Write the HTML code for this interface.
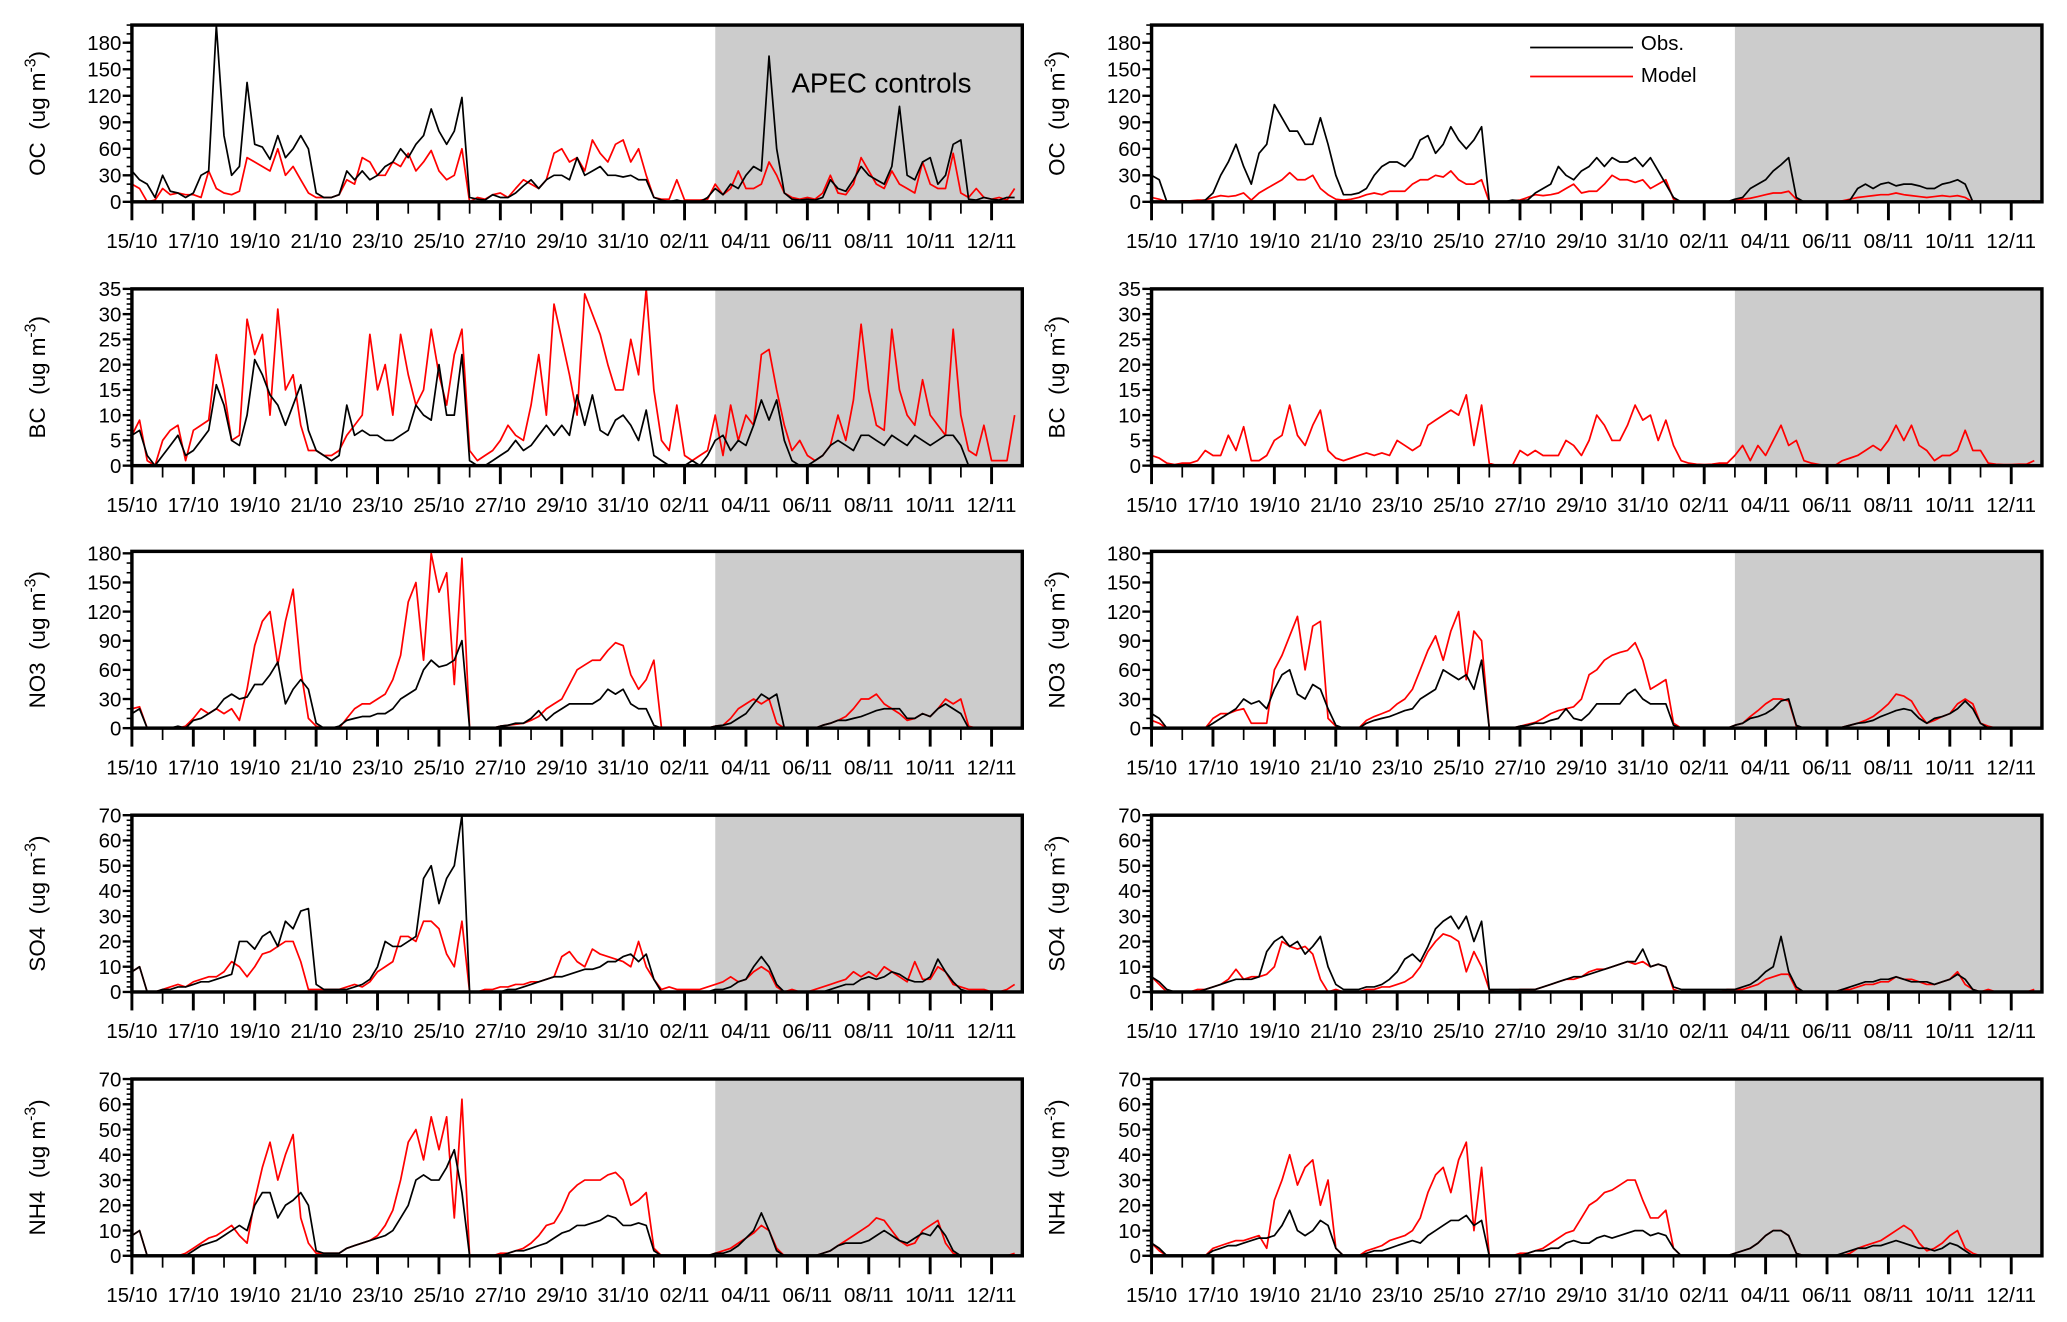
<!DOCTYPE html>
<html><head><meta charset="utf-8"><style>
html,body{margin:0;padding:0;background:#fff;}
svg{display:block;font-family:"Liberation Sans",Arial,sans-serif;}
</style></head><body>
<svg id="chart" width="2067" height="1322" viewBox="0 0 1567 1002.2" preserveAspectRatio="none" xmlns="http://www.w3.org/2000/svg"></svg>
<script>
// 6-hourly values, 4 per day, starting 15/10 00:00
const dateLabels = ["15/10","17/10","19/10","21/10","23/10","25/10","27/10","29/10","31/10","02/11","04/11","06/11","08/11","10/11","12/11"];
const species = ["OC","BC","NO3","SO4","NH4"];
const yMax = [200,35,182,70,70];
const yMajor = [[0,30,60,90,120,150,180],[0,5,10,15,20,25,30,35],[0,30,60,90,120,150,180],[0,10,20,30,40,50,60,70],[0,10,20,30,40,50,60,70]];
const yMinorStep = [10,1,10,2,2];
const apecStartDay = 19;

const ocObsL = [35,25,20,5, 30,12,10,5, 10,30,35,200, 75,30,40,135, 65,62,48,75, 50,60,75,60, 10,5,5,8, 35,25,35,25, 30,40,45,60, 50,65,75,105, 80,65,80,118, 5,3,2,8, 5,5,10,18, 25,15,25,30, 30,25,50,30, 35,40,30,30, 28,30,25,25, 5,2,0,2, 0,0,0,5, 15,8,20,15, 30,40,35,165, 60,10,3,2, 3,2,5,25, 15,12,25,40, 30,25,20,40, 108,30,25,45, 50,20,30,65, 70,3,2,5, 3,2,5,5];
const ocModL = [20,15,0,2, 15,8,10,8, 8,5,35,15, 10,8,12,50, 45,40,35,60, 30,40,25,10, 5,5,5,8, 25,20,50,45, 30,30,45,40, 55,35,45,58, 35,25,30,60, 0,5,3,8, 10,5,15,25, 20,15,25,55, 60,45,50,35, 70,55,45,65, 70,45,60,30, 5,3,3,25, 2,2,2,3, 20,8,15,35, 15,15,20,45, 30,10,5,3, 5,3,10,30, 10,8,20,50, 35,20,15,35, 20,15,10,45, 20,15,15,55, 10,5,15,5, 3,5,2,15];
const bcObsL = [6,7,2,0, 2,4,6,2, 3,5,7,16, 12,5,4,10, 21,18,14,12, 8,12,16,7, 3,2,1,2, 12,6,7,6, 6,5,5,6, 7,12,10,9, 20,10,10,22, 1,0,0,1, 2,3,5,3, 4,6,8,6, 8,6,14,8, 14,7,6,9, 10,8,5,11, 2,1,0,0, 0,1,0,2, 5,6,3,5, 4,8,13,9, 13,5,1,0, 0,1,2,4, 5,4,3,6, 6,5,4,6, 5,4,6,5, 4,5,6,6, 4,0,0,0, 0,0,0,0];
const bcModL = [6,9,1,0, 5,7,8,1, 7,8,9,22, 15,5,6,29, 22,26,10,31, 15,18,8,3, 3,2,2,3, 6,8,10,26, 15,20,10,26, 18,12,15,27, 18,12,22,27, 3,1,2,3, 5,8,6,5, 12,22,10,32, 25,18,10,34, 30,26,20,15, 15,25,18,35, 15,5,3,12, 2,1,2,3, 10,2,12,5, 10,8,22,23, 15,8,3,5, 2,1,2,4, 10,5,13,28, 15,8,7,27, 15,10,8,17, 10,8,6,27, 10,3,2,8, 1,1,1,10];
const no3ObsL = [15,20,0,0, 0,0,2,0, 8,10,15,20, 30,35,30,32, 45,45,55,68, 25,40,50,40, 5,0,0,2, 8,10,12,12, 15,15,20,30, 35,40,60,70, 63,65,70,90, 0,0,0,0, 2,3,5,5, 10,18,8,15, 20,25,25,25, 25,30,40,35, 40,25,20,20, 3,0,0,0, 0,0,0,0, 2,3,5,10, 15,25,35,30, 35,0,0,0, 0,0,3,5, 8,8,10,12, 15,18,20,20, 20,10,10,15, 12,20,25,20, 15,0,0,0, 0,0,0,0];
const no3ModL = [20,22,0,0, 0,0,0,2, 10,20,15,20, 15,20,8,40, 85,110,120,65, 110,143,60,10, 2,0,0,0, 10,20,25,25, 30,35,50,75, 130,150,70,180, 140,160,45,175, 0,0,0,0, 2,3,4,5, 8,12,20,25, 30,45,60,65, 70,70,80,88, 85,55,40,50, 70,0,0,0, 0,0,0,0, 2,3,10,20, 25,30,25,30, 5,0,0,0, 0,0,3,5, 8,12,20,30, 30,35,25,20, 15,8,10,15, 12,20,30,25, 30,2,0,0, 0,0,0,0];
const so4ObsL = [8,10,0,0, 1,1,2,2, 3,4,4,5, 6,7,20,20, 17,22,24,18, 28,25,32,33, 3,1,1,1, 1,2,3,5, 10,20,18,18, 20,22,45,50, 35,45,50,70, 0,0,0,0, 0,1,1,2, 3,4,5,6, 6,7,8,9, 9,10,12,12, 14,15,12,15, 5,0,0,0, 0,0,0,0, 1,1,2,4, 5,10,14,10, 3,0,0,0, 0,0,0,1, 2,3,3,5, 6,5,6,8, 7,5,4,4, 6,13,8,4, 1,0,0,0, 0,0,0,0];
const so4ModL = [8,10,0,0, 1,2,3,2, 4,5,6,6, 8,12,10,6, 10,15,16,18, 20,20,12,1, 1,1,1,1, 2,3,2,4, 8,10,12,22, 22,20,28,28, 25,15,10,28, 0,0,1,1, 2,2,3,3, 4,4,5,6, 14,16,12,10, 17,15,14,13, 12,10,20,10, 5,1,2,1, 1,1,1,2, 3,4,6,4, 5,8,10,8, 2,0,1,0, 0,1,2,3, 4,5,8,6, 8,6,10,8, 6,4,12,5, 5,10,8,3, 2,1,1,1, 0,0,1,3];
const nh4ObsL = [8,10,0,0, 0,0,0,0, 2,4,5,6, 8,10,12,10, 20,25,25,15, 20,22,25,20, 2,1,1,1, 3,4,5,6, 7,8,10,15, 20,30,32,30, 30,35,42,25, 0,0,0,0, 0,1,2,2, 3,4,5,7, 9,10,12,12, 13,14,16,15, 12,12,13,12, 2,0,0,0, 0,0,0,0, 1,1,2,4, 7,10,17,10, 2,0,0,0, 0,0,1,2, 4,5,5,5, 6,8,10,8, 6,5,7,9, 8,12,8,2, 0,0,0,0, 0,0,0,0];
const nh4ModL = [8,10,0,0, 0,0,0,1, 3,5,7,8, 10,12,8,5, 22,35,45,30, 40,48,15,5, 1,1,1,1, 3,4,5,6, 8,12,18,30, 45,50,38,55, 42,55,15,62, 0,0,0,0, 1,1,2,3, 5,8,12,13, 18,25,28,30, 30,30,32,33, 30,20,22,25, 3,0,0,0, 0,0,0,0, 1,2,3,5, 7,9,12,10, 3,0,0,0, 0,0,1,2, 4,6,8,10, 12,15,14,10, 6,4,5,10, 12,14,5,1, 0,0,0,0, 0,0,0,1];

const ocObsR = [30,25,0,0, 0,0,0,2, 10,30,45,65, 40,20,55,65, 110,95,80,80, 65,65,95,65, 30,8,8,10, 15,30,40,45, 45,40,50,70, 75,55,65,85, 70,60,70,85, 0,0,0,2, 1,2,10,15, 20,40,30,25, 35,40,50,40, 50,45,45,50, 40,50,35,20, 5,0,0,0, 0,0,0,0, 3,5,15,20, 25,35,42,50, 5,0,0,0, 0,0,0,2, 15,20,15,20, 22,18,20,20, 18,15,15,20, 22,25,20,0, 0,0,0,0, 0,0,0,0];
const ocModR = [5,3,0,0, 1,1,2,2, 5,7,6,7, 10,2,10,15, 20,25,33,25, 25,30,15,8, 3,2,3,5, 8,10,8,12, 12,12,20,25, 25,30,28,35, 25,20,20,25, 0,0,0,1, 2,5,8,7, 8,10,15,20, 10,12,12,20, 30,25,25,22, 25,15,20,25, 3,0,0,0, 0,0,0,0, 2,3,4,6, 8,10,10,12, 3,0,0,0, 0,0,1,3, 5,6,7,8, 8,10,8,7, 6,5,6,7, 6,7,5,0, 0,0,0,0, 0,0,0,1];
const bcObsR = [];
const bcModR = [2,1.5,0.5,0.2, 0.5,0.5,1,3, 2,2,6,3, 7.7,1,1,2, 5,6,12,6, 4,8,11,3, 1.5,1,1.5,2, 2.5,2,2.5,2, 5,4,3,4, 8,9,10,11, 10,14,4,12, 0.5,0,0,0, 3,2,3,2, 2,2,5,4, 2,5,10,8, 5,5,8,12, 9,10,5,9, 4,1,0.5,0.3, 0.2,0.3,0.5,0.5, 2,4,1,4, 2,5,8,4, 5,1,0.5,0.2, 0,0,1,1.5, 2,3,4,3, 5,8,5,8, 4,3,1,2, 2,3,7,3, 3,0.5,0.3,0.2, 0.2,0.3,0.3,1];
const no3ObsR = [15,10,0,0, 0,0,0,0, 5,10,15,20, 30,25,28,20, 40,55,60,35, 30,45,40,20, 3,0,0,0, 5,8,10,12, 15,18,20,30, 35,40,60,55, 50,55,40,70, 0,0,0,0, 2,3,5,5, 8,10,20,10, 8,15,25,25, 25,25,35,40, 30,25,25,25, 3,0,0,0, 0,0,0,0, 3,5,10,12, 15,20,28,30, 3,0,0,0, 0,0,1,3, 5,6,8,12, 15,18,20,18, 10,5,10,12, 15,20,28,20, 5,0,0,0, 0,0,0,0];
const no3ModR = [8,5,0,0, 0,0,0,0, 10,15,15,18, 20,5,5,5, 60,75,95,115, 60,105,110,10, 2,0,0,0, 8,12,15,18, 25,30,40,60, 80,95,70,100, 120,50,100,90, 0,0,0,0, 2,4,6,10, 15,18,20,22, 30,55,60,70, 75,78,80,88, 70,40,45,50, 5,0,0,0, 0,0,0,0, 3,5,12,18, 25,30,30,28, 2,0,0,0, 0,0,1,3, 5,8,12,18, 25,35,33,28, 15,5,8,12, 15,25,30,25, 5,2,0,0, 0,0,0,0];
const so4ObsR = [6,4,1,0, 0,0,0,1, 2,3,4,5, 5,5,6,16, 20,22,18,20, 15,18,22,10, 3,1,1,1, 2,2,3,5, 8,13,15,12, 18,25,28,30, 25,30,20,28, 1,1,1,1, 1,1,1,2, 3,4,5,6, 6,7,8,9, 10,11,12,12, 17,10,11,10, 2,1,1,1, 1,1,1,1, 1,2,3,5, 8,10,22,8, 2,0,0,0, 0,0,1,2, 3,4,4,5, 5,6,5,4, 4,4,3,4, 5,7,5,1, 0,0,0,0, 0,0,0,0];
const so4ModR = [6,3,0,0, 0,0,1,1, 2,3,5,9, 5,6,6,7, 10,20,18,17, 18,15,5,0, 1,0,0,0, 1,1,2,2, 3,4,6,10, 16,20,23,22, 20,8,16,10, 1,0,0,0, 1,1,1,2, 3,4,5,5, 6,8,9,9, 10,11,12,11, 12,10,11,10, 1,0,0,0, 0,0,0,1, 1,1,2,3, 5,6,7,7, 1,0,0,0, 0,0,1,1, 2,3,3,4, 4,6,5,5, 4,3,3,4, 5,8,3,1, 0,1,0,0, 0,0,0,1];
const nh4ObsR = [5,3,0,0, 0,0,0,0, 2,3,4,4, 5,6,7,7, 8,12,18,10, 8,10,14,12, 3,0,0,0, 1,2,2,3, 4,5,6,5, 8,10,12,14, 14,16,12,14, 0,0,0,0, 0,1,2,2, 3,3,5,6, 5,5,7,8, 7,8,9,10, 10,8,9,8, 3,0,0,0, 0,0,0,0, 1,2,3,5, 8,10,10,8, 1,0,0,0, 0,0,1,2, 3,3,4,4, 5,6,5,4, 3,3,2,3, 5,4,2,0, 0,0,0,0, 0,0,0,0];
const nh4ModR = [5,2,0,0, 0,0,0,0, 3,4,5,6, 6,7,8,3, 22,30,40,28, 35,38,20,30, 3,0,0,0, 2,3,4,6, 7,8,10,15, 25,32,35,25, 38,45,10,35, 0,0,0,0, 1,1,2,3, 5,7,9,10, 15,20,22,25, 26,28,30,30, 22,15,15,18, 3,0,0,0, 0,0,0,0, 1,2,3,5, 8,10,10,8, 1,0,0,0, 0,0,0,1, 3,4,5,6, 8,10,12,10, 5,2,3,5, 8,10,3,1, 0,0,0,0, 0,0,0,0];

const obsSeries = [[ocObsL,ocObsR],[bcObsL,bcObsR],[no3ObsL,no3ObsR],[so4ObsL,so4ObsR],[nh4ObsL,nh4ObsR]];
const modSeries = [[ocModL,ocModR],[bcModL,bcModR],[no3ModL,no3ModR],[so4ModL,so4ModR],[nh4ModL,nh4ModR]];

const NS = "http://www.w3.org/2000/svg";
const svg = document.getElementById('chart');
const colX = [100, 873];
const plotW = 675, dayMax = 29;
const rowTop = [19, 219, 418, 618, 818];
const plotH = 134;

function mk(tag, attrs, parent) {
  const e = document.createElementNS(NS, tag);
  for (const k in attrs) e.setAttribute(k, attrs[k]);
  (parent || svg).appendChild(e);
  return e;
}

for (let r = 0; r < 5; r++) {
  for (let c = 0; c < 2; c++) {
    const x0 = colX[c], y0 = rowTop[r], yb = y0 + plotH;
    const xs = d => x0 + d / dayMax * plotW;
    const ys = v => yb - Math.min(v, yMax[r]) / yMax[r] * plotH;
    const g = mk('g', {});
    
    
    const shade = mk('rect', {x: xs(apecStartDay), y: y0, width: x0 + plotW - xs(apecStartDay), height: plotH, fill: '#cccccc'}, g);
    
    
    // series
    const draw = (arr, color, name) => {
      if (!arr.length) return;
      const pts = arr.map((v, i) => xs(i / 4).toFixed(1) + ',' + ys(v).toFixed(1)).join(' ');
      const pl = mk('polyline', {points: pts, fill: 'none', stroke: color, 'stroke-width': 1.3, 'stroke-linejoin': 'round'}, g);
      
      
    };
    draw(modSeries[r][c], '#ff0000', 'model-line');
    draw(obsSeries[r][c], '#000000', 'obs-line');
    const fr = mk('rect', {x: x0, y: y0, width: plotW, height: plotH, fill: 'none', stroke: '#000', 'stroke-width': 2.6}, g);
    
    
    // y ticks
    for (let v = 0; v <= yMax[r] + 1e-9; v += yMinorStep[r]) {
      const major = yMajor[r].indexOf(Math.round(v * 100) / 100) >= 0;
      mk('line', {x1: x0 - (major ? 7 : 4), x2: x0, y1: ys(v), y2: ys(v), stroke: '#000', 'stroke-width': major ? 1.8 : 1.2}, g);
    }
    yMajor[r].forEach(v => {
      const t = mk('text', {x: x0 - 8, y: ys(v) + 5.5, 'text-anchor': 'end', 'font-size': 15.5}, g);
      t.textContent = v;
      
      
    });
    // x ticks
    for (let d = 0; d <= 28; d++) {
      const major = d % 2 === 0;
      mk('line', {x1: xs(d), x2: xs(d), y1: yb, y2: yb + (major ? 14 : 9), stroke: '#000', 'stroke-width': major ? 2.2 : 1.3}, g);
    }
    dateLabels.forEach((lab, i) => {
      const t = mk('text', {x: xs(i * 2), y: yb + 35, 'text-anchor': 'middle', 'font-size': 15.5}, g);
      t.textContent = lab;
      
      
    });
    // y title
    const tx = x0 - 66, ty = y0 + plotH / 2;
    const yt = mk('text', {x: tx, y: ty, 'text-anchor': 'middle', 'font-size': 17, transform: 'rotate(-90 ' + tx + ' ' + ty + ')'}, g);
    
    
    yt.appendChild(document.createTextNode(species[r] + '\u00a0\u00a0(ug m'));
    const sup = mk('tspan', {dy: -7, 'font-size': 12}, yt);
    sup.textContent = '-3';
    const cl = mk('tspan', {dy: 7}, yt);
    cl.textContent = ')';
  }
}
// annotation
const ann = mk('text', {x: 600, y: 70, 'font-size': 21});
ann.textContent = 'APEC controls';


// legend
const lg = mk('g', {});


const l1 = mk('line', {x1: 1160, x2: 1238, y1: 36, y2: 36, stroke: '#000', 'stroke-width': 1.3}, lg);


const t1 = mk('text', {x: 1244, y: 38, 'font-size': 15.5}, lg);
t1.textContent = 'Obs.';


const l2 = mk('line', {x1: 1160, x2: 1238, y1: 58, y2: 58, stroke: '#ff0000', 'stroke-width': 1.3}, lg);


const t2 = mk('text', {x: 1244, y: 62, 'font-size': 15.5}, lg);
t2.textContent = 'Model';


</script>
</body></html>
